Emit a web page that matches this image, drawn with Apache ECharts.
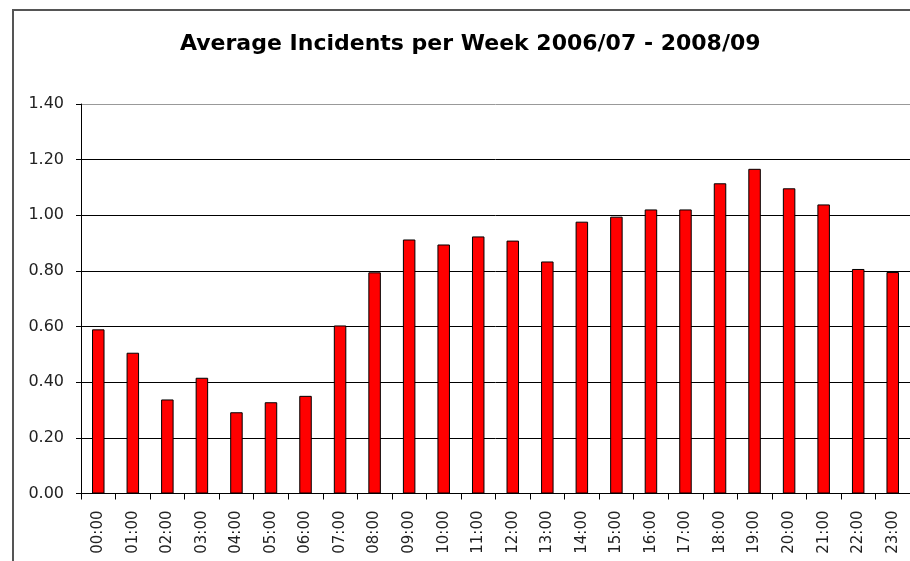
<!DOCTYPE html>
<html>
<head>
<meta charset="utf-8">
<script src="https://cdn.jsdelivr.net/npm/echarts@6/dist/echarts.min.js"></script>
<style>
html,body{margin:0;padding:0;background:#fff;}
#c{width:910px;height:561px;}
</style>
</head>
<body>
<div id="c"></div>
<script>
const titleText = "Average Incidents per Week 2006/07 - 2008/09";
const hours = ["00:00","01:00","02:00","03:00","04:00","05:00","06:00","07:00","08:00","09:00","10:00","11:00","12:00","13:00","14:00","15:00","16:00","17:00","18:00","19:00","20:00","21:00","22:00","23:00"];
const incidents = [0.59,0.506,0.338,0.416,0.292,0.328,0.351,0.604,0.795,0.913,0.895,0.924,0.909,0.834,0.977,0.995,1.021,1.021,1.115,1.167,1.097,1.039,0.807,0.796];
const yTicks = [0,0.2,0.4,0.6,0.8,1.0,1.2,1.4];

const chart = echarts.init(document.getElementById('c'), null, {renderer:'canvas'});
const font = '"DejaVu Sans", "Liberation Sans", sans-serif';
chart.setOption({
  animation:false,
  backgroundColor:'#fff',
  title:{
    text:titleText,
    left:175, top:28,
    textStyle:{fontFamily:font,fontWeight:'bold',fontSize:22,color:'#000'}
  },
  graphic:[{
    type:'rect',
    shape:{x:13,y:10,width:1000,height:700},
    style:{fill:'none',stroke:'#555',lineWidth:2},
    silent:true
  }],
  grid:{left:81,right:-1,top:104,bottom:67.5,containLabel:false,show:false},
  xAxis:{
    type:'category',
    data:hours,
    boundaryGap:true,
    axisLine:{show:true,lineStyle:{color:'#000',width:1}},
    axisTick:{show:true,length:6,lineStyle:{color:'#000'}},
    axisLabel:{rotate:90,margin:17,fontFamily:font,fontSize:15,color:'#222',interval:0},
    splitLine:{show:false}
  },
  yAxis:{
    type:'value',
    min:yTicks[0],max:yTicks[yTicks.length-1],interval:0.2,
    axisLine:{show:true,lineStyle:{color:'#000',width:1}},
    axisTick:{show:true,length:5,lineStyle:{color:'#000'}},
    axisLabel:{margin:17,fontFamily:font,fontSize:16,color:'#222',formatter:v=>v.toFixed(2)},
    splitLine:{show:true,lineStyle:{color:['#000','#000','#000','#000','#000','#000','#000','#999'],width:1}}
  },
  series:[{
    type:'bar',
    data:incidents,
    barWidth:12.5,
    itemStyle:{color:'#ff0000',borderColor:'#000',borderWidth:1}
  }]
});
</script>
</body>
</html>
